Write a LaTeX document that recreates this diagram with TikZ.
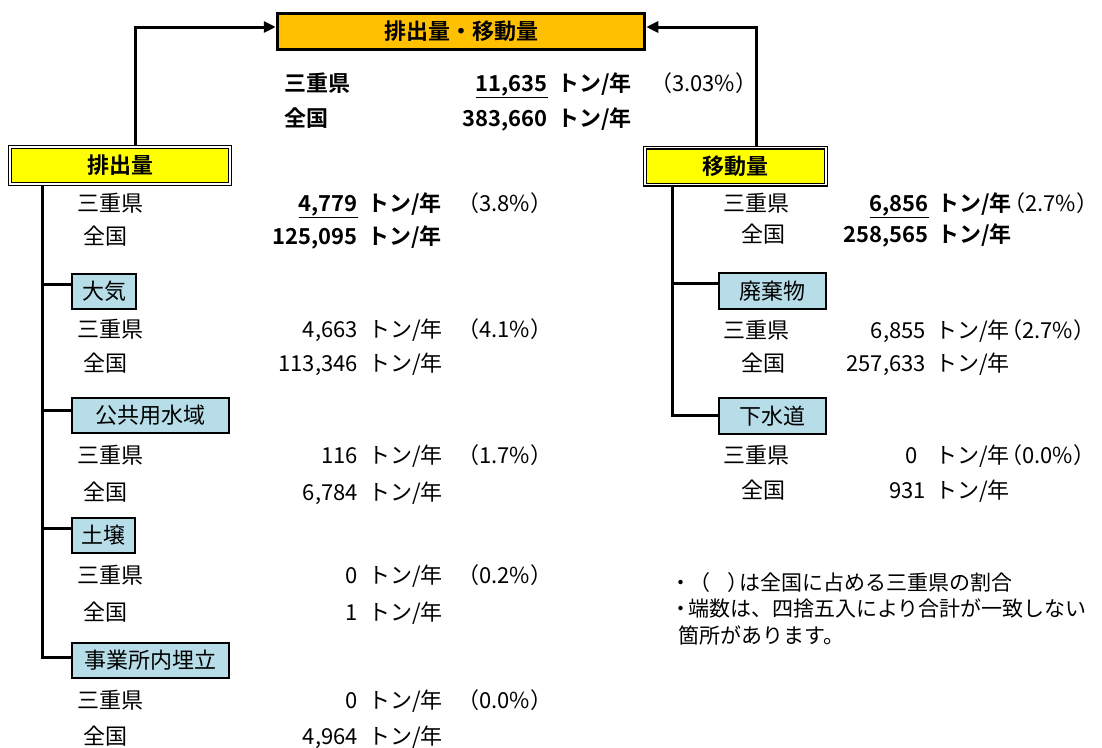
\documentclass[tikz,border=0pt]{standalone}
\usepackage{fontspec}
\setmainfont{Noto Sans CJK JP}[BoldFont={Noto Sans CJK JP Bold}]
\usetikzlibrary{arrows.meta}
\definecolor{orgfill}{HTML}{FFC000}
\definecolor{yelfill}{HTML}{FFFF00}
\definecolor{bluefill}{HTML}{B7DEE8}
\newcommand{\fz}{\fontsize{22pt}{26pt}\selectfont}
\newcommand{\fn}{\fontsize{21pt}{25pt}\selectfont}
\begin{document}
\begin{tikzpicture}[x=1pt,y=-1pt,font=\fz,
  conn/.style={line width=3pt},
  arr/.style={line width=3pt,-{Triangle[length=12pt,width=11pt]}},
  topbox/.style={draw=black,line width=3.5pt,fill=orgfill,inner sep=0pt,minimum width=367pt,minimum height=36pt,font=\fz\bfseries},
  ybox/.style={draw=black,fill=yelfill,line width=1.4pt,double=white,double distance=1.2pt,inner sep=0pt,minimum height=37pt,font=\fz\bfseries},
  bbox/.style={draw=black,fill=bluefill,line width=2pt,inner sep=0pt,minimum height=35pt},
  lab/.style={inner sep=0pt,anchor=base west},
  numtxt/.style={inner sep=0pt,anchor=base east},
  bf/.style={font=\fz\bfseries},
  note/.style={inner sep=0pt,anchor=base west,font=\fn}]
\fill[white] (0,0) rectangle (1102,747);
\useasboundingbox (0,0) rectangle (1102,747);

% boxes
\node[topbox] (total) at (461,31.5) {排出量・移動量};
\node[ybox,minimum width=220pt] (em) at (120,165.5) {排出量};
\node[ybox,minimum width=181pt] (mv) at (735.5,166) {移動量};
\node[bbox,minimum width=64pt] (b1) at (104,291) {大気};
\node[bbox,minimum width=157pt] (b2) at (150.5,415.5) {公共用水域};
\node[bbox,minimum width=63pt] (b3) at (103.5,535.5) {土壌};
\node[bbox,minimum width=157pt] (b4) at (150.5,660.5) {事業所内埋立};
\node[bbox,minimum width=107pt,minimum height=36pt] (r1) at (772.5,291) {廃棄物};
\node[bbox,minimum width=107pt,minimum height=36pt] (r2) at (772.5,416) {下水道};

% connectors
\draw[arr] ([xshift=15pt]em.north) |- ([yshift=4.5pt]total.west);
\draw[arr] ([xshift=20.5pt]mv.north) |- ([yshift=4.5pt]total.east);
\coordinate (tl) at ([xshift=33pt]em.south west);
\coordinate (tr) at ([xshift=28pt]mv.south west);
\draw[conn] ([yshift=7pt]b1.west) -| (tl);
\draw[conn] ([yshift=5.5pt]b2.west) -| (tl);
\draw[conn] ([yshift=7.5pt]b3.west) -| (tl);
\draw[conn] ([yshift=3.5pt]b4.west) -| (tl);
\draw[conn] ([yshift=8pt]r1.west) -| (tr);
\draw[conn] ([yshift=1pt]r2.west) -| (tr);

% total figures
\node[lab,bf] (tm) at (284,91) {三重県};
\node[numtxt,bf] (tmv) at (548,91) {\underline{11,635}};
\node[lab,bf] (tmu) at (557,91) {トン/年};
\node[lab] (tmp) at (650,91) {（3.03\%）};
\node[lab,bf] (ta) at (284,126) {全国};
\node[numtxt,bf] (tav) at (548,126) {383,660};
\node[lab,bf] (tau) at (557,126) {トン/年};

% emissions
\node[lab] (e0m) at (77,211) {三重県};
\node[numtxt,bf] (e0mv) at (358,211) {\underline{4,779}};
\node[lab,bf] (e0mu) at (367,211) {トン/年};
\node[lab] (e0mp) at (457,211) {（3.8\%）};
\node[lab] (e0a) at (83,244) {全国};
\node[numtxt,bf] (e0av) at (358,244) {125,095};
\node[lab,bf] (e0au) at (367,244) {トン/年};

\node[lab] (e1m) at (77,337) {三重県};
\node[numtxt] (e1mv) at (358,337) {4,663};
\node[lab] (e1mu) at (368,337) {トン/年};
\node[lab] (e1mp) at (457,337) {（4.1\%）};
\node[lab] (e1a) at (83,371) {全国};
\node[numtxt] (e1av) at (358,371) {113,346};
\node[lab] (e1au) at (368,371) {トン/年};

\node[lab] (e2m) at (77,463) {三重県};
\node[numtxt] (e2mv) at (358,463) {116};
\node[lab] (e2mu) at (368,463) {トン/年};
\node[lab] (e2mp) at (457,463) {（1.7\%）};
\node[lab] (e2a) at (83,500) {全国};
\node[numtxt] (e2av) at (358,500) {6,784};
\node[lab] (e2au) at (368,500) {トン/年};

\node[lab] (e3m) at (77,583) {三重県};
\node[numtxt] (e3mv) at (358,583) {0};
\node[lab] (e3mu) at (368,583) {トン/年};
\node[lab] (e3mp) at (457,583) {（0.2\%）};
\node[lab] (e3a) at (83,620) {全国};
\node[numtxt] (e3av) at (358,620) {1};
\node[lab] (e3au) at (368,620) {トン/年};

\node[lab] (e4m) at (77,708) {三重県};
\node[numtxt] (e4mv) at (358,708) {0};
\node[lab] (e4mu) at (368,708) {トン/年};
\node[lab] (e4mp) at (457,708) {（0.0\%）};
\node[lab] (e4a) at (83,744) {全国};
\node[numtxt] (e4av) at (358,744) {4,964};
\node[lab] (e4au) at (368,744) {トン/年};

% transfers
\node[lab] (m0m) at (723,211) {三重県};
\node[numtxt,bf] (m0mv) at (929,211) {\underline{6,856}};
\node[lab,bf] (m0mu) at (937,211) {トン/年};
\node[lab] (m0mp) at (1003,211) {（2.7\%）};
\node[lab] (m0a) at (741,242) {全国};
\node[numtxt,bf] (m0av) at (929,242) {258,565};
\node[lab,bf] (m0au) at (937,242) {トン/年};

\node[lab] (m1m) at (723,338) {三重県};
\node[numtxt] (m1mv) at (926,338) {6,855};
\node[lab] (m1mu) at (935,338) {トン/年};
\node[lab] (m1mp) at (1000,338) {（2.7\%）};
\node[lab] (m1a) at (741,371) {全国};
\node[numtxt] (m1av) at (926,371) {257,633};
\node[lab] (m1au) at (935,371) {トン/年};

\node[lab] (m2m) at (723,463) {三重県};
\node[numtxt] (m2mv) at (918,463) {0};
\node[lab] (m2mu) at (935,463) {トン/年};
\node[lab] (m2mp) at (1000,463) {（0.0\%）};
\node[lab] (m2a) at (741,498) {全国};
\node[numtxt] (m2av) at (926,498) {931};
\node[lab] (m2au) at (935,498) {トン/年};

% notes
\node[note] (n1) at (678,590) {\kern-8pt・\kern-2pt（\kern17pt）\kern-9pt は全国に占める三重県の割合};
\node[note] (n2) at (678,616) {\kern-8pt・\kern-3pt 端数は、四捨五入により合計が一致しない};
\node[note] (n3) at (678,643) {箇所があります。};
\end{tikzpicture}
\end{document}
